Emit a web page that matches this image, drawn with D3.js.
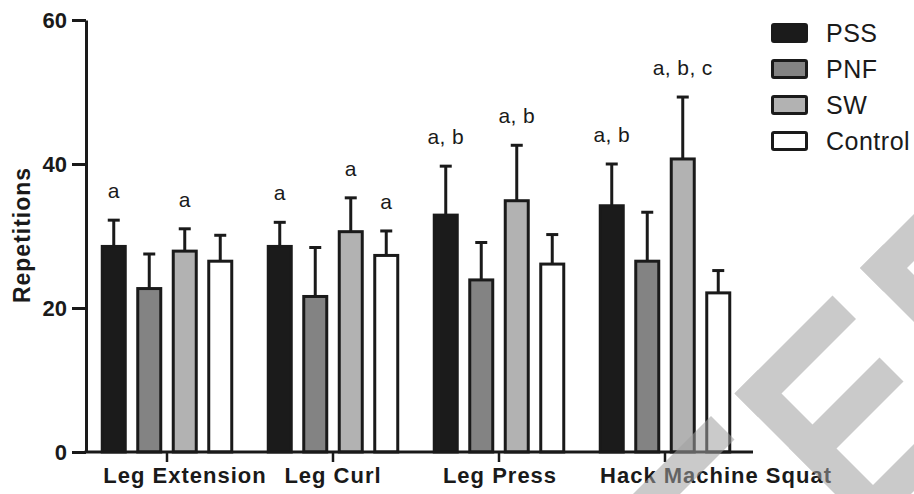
<!DOCTYPE html>
<html>
<head>
<meta charset="utf-8">
<script src="https://cdn.jsdelivr.net/npm/d3@7"></script>
<style>
  body { margin: 0; background: #fff; }
  svg { display: block; font-family: "Liberation Sans", Arial, sans-serif; }
</style>
</head>
<body>
<div id="chart"></div>
<script>
// values (mean and SD per group)
const categories = ["Leg Extension", "Leg Curl", "Leg Press", "Hack Machine Squat"];
const groups = ["PSS", "PNF", "SW", "Control"];

const pssMean = [28.55, 28.55, 32.9, 34.2];
const pssSd = [3.65, 3.35, 6.8, 5.8];
const pnfMean = [22.7, 21.6, 23.9, 26.5];
const pnfSd = [4.8, 6.8, 5.2, 6.8];
const swMean = [27.9, 30.6, 34.9, 40.7];
const swSd = [3.1, 4.7, 7.7, 8.6];
const controlMean = [26.5, 27.3, 26.1, 22.1];
const controlSd = [3.6, 3.4, 4.1, 3.1];

const pssMarks = ["a", "a", "a, b", "a, b"];
const pnfMarks = ["", "", "", ""];
const swMarks = ["a", "a", "a, b", "a, b, c"];
const controlMarks = ["", "a", "", ""];

const yTicks = [0, 20, 40, 60];

const colors = { PSS: "#1b1b1b", PNF: "#838383", SW: "#b2b2b2", Control: "#ffffff" };

const means = [pssMean, pnfMean, swMean, controlMean];
const sds = [pssSd, pnfSd, swSd, controlSd];
const marks = [pssMarks, pnfMarks, swMarks, controlMarks];

const rows = [];
categories.forEach((c, i) => {
    groups.forEach((g, j) => {
        rows.push({ cat: c, group: g, mean: means[j][i], sd: sds[j][i], mark: marks[j][i] });
    });
});

const width = 914, height = 494;
const axisLeft = 86, axisRight = 753;

const svg = d3.select("#chart").append("svg")
    .attr("width", width)
    .attr("height", height);

svg.append("rect").attr("width", width).attr("height", height).attr("fill", "#fff");

const y = d3.scaleLinear().domain([0, 60]).range([452, 20]);
const x0 = d3.scaleBand().domain(categories).range([84, 748]);
const x1 = d3.scaleBand().domain(groups).range([-71, 71]);
const barW = 23;

const bars = svg.append("g");

// error bars (drawn first so bar outline sits on top)
bars.selectAll("line.err")
    .data(rows)
    .enter()
    .append("line")
    .attr("class", "err")
    .attr("x1", d => x0(d.cat) + x0.bandwidth() / 2 + x1(d.group) + x1.bandwidth() / 2)
    .attr("x2", d => x0(d.cat) + x0.bandwidth() / 2 + x1(d.group) + x1.bandwidth() / 2)
    .attr("y1", d => y(d.mean))
    .attr("y2", d => y(d.mean + d.sd))
    .attr("stroke", "#1a1a1a")
    .attr("stroke-width", 3);

bars.selectAll("line.cap")
    .data(rows)
    .enter()
    .append("line")
    .attr("class", "cap")
    .attr("x1", d => x0(d.cat) + x0.bandwidth() / 2 + x1(d.group) + x1.bandwidth() / 2 - 6)
    .attr("x2", d => x0(d.cat) + x0.bandwidth() / 2 + x1(d.group) + x1.bandwidth() / 2 + 6)
    .attr("y1", d => y(d.mean + d.sd))
    .attr("y2", d => y(d.mean + d.sd))
    .attr("stroke", "#1a1a1a")
    .attr("stroke-width", 3);

bars.selectAll("rect")
    .data(rows)
    .enter()
    .append("rect")
    .attr("x", d => x0(d.cat) + x0.bandwidth() / 2 + x1(d.group) + x1.bandwidth() / 2 - barW / 2)
    .attr("y", d => y(d.mean))
    .attr("width", barW)
    .attr("height", d => y(0) - y(d.mean))
    .attr("fill", d => colors[d.group])
    .attr("stroke", "#1a1a1a")
    .attr("stroke-width", 3);

// significance letters
bars.selectAll("text.mark")
    .data(rows.filter(d => d.mark))
    .enter()
    .append("text")
    .attr("class", "mark")
    .attr("x", d => x0(d.cat) + x0.bandwidth() / 2 + x1(d.group) + x1.bandwidth() / 2)
    .attr("y", d => y(d.mean + d.sd) - 22)
    .attr("text-anchor", "middle")
    .style("font-size", "21px")
    .style("letter-spacing", "0.4px")
    .attr("fill", "#1a1a1a")
    .text(d => d.mark);

// y axis
const yAxis = svg.append("g")
    .attr("transform", "translate(" + axisLeft + ",0)")
    .call(d3.axisLeft(y).tickValues(yTicks).tickSizeInner(14).tickSizeOuter(0).tickPadding(5));
yAxis.select(".domain").attr("stroke", "#1a1a1a").attr("stroke-width", 3);
yAxis.selectAll(".tick line").attr("stroke", "#1a1a1a").attr("stroke-width", 3);
yAxis.selectAll(".tick text")
    .attr("fill", "#1a1a1a")
    .style("font-size", "22px")
    .style("font-weight", "bold")
    .style("font-family", "Liberation Sans, Arial, sans-serif");

// x axis
const labelShift = { "Leg Extension": 18, "Leg Curl": 0, "Leg Press": 1, "Hack Machine Squat": 51 };
const xAxis = svg.append("g")
    .attr("transform", "translate(0," + y(0) + ")")
    .call(d3.axisBottom(x0).tickSizeInner(10).tickSizeOuter(0).tickPadding(10));
xAxis.select(".domain").remove();
xAxis.append("line")
    .attr("x1", axisLeft - 1.5)
    .attr("x2", axisRight)
    .attr("stroke", "#1a1a1a")
    .attr("stroke-width", 3);
xAxis.selectAll(".tick line").attr("stroke", "#1a1a1a").attr("stroke-width", 2.5);
xAxis.selectAll(".tick text")
    .attr("fill", "#1a1a1a")
    .attr("dx", d => labelShift[d])
    .attr("y", 31)
    .attr("dy", 0)
    .style("font-size", "22px")
    .style("font-weight", "bold")
    .style("letter-spacing", "1px")
    .style("font-family", "Liberation Sans, Arial, sans-serif");

svg.append("text")
    .attr("transform", "translate(30,235) rotate(-90)")
    .attr("text-anchor", "middle")
    .style("font-size", "23px")
    .style("font-weight", "bold")
    .style("letter-spacing", "1px")
    .attr("fill", "#1a1a1a")
    .text("Repetitions");

// legend
const legend = svg.append("g").attr("transform", "translate(772,33)");
const item = legend.selectAll("g")
    .data(groups)
    .enter()
    .append("g")
    .attr("transform", (d, i) => "translate(0," + i * 36 + ")");
item.append("rect")
    .attr("x", 0.5)
    .attr("y", -8.5)
    .attr("width", 34)
    .attr("height", 17)
    .attr("rx", 1.5)
    .attr("fill", d => colors[d])
    .attr("stroke", "#1a1a1a")
    .attr("stroke-width", 3);
item.append("text")
    .attr("x", 54)
    .attr("y", 9)
    .style("font-size", "25px")
    .style("letter-spacing", "0.5px")
    .attr("fill", "#1a1a1a")
    .text(d => d);

// grey diagonal watermark over the lower right corner
// pieces given as [u0,u1,v0,v1] with u = x - y, v = x + y
const wmPieces = [
    [100, 295, 1127, 1174],
    [341, 388, 1128, 1405], [341, 537, 1128, 1175], [341, 522, 1237, 1285], [341, 537, 1358, 1405],
    [592, 639, 1128, 1405], [592, 800, 1128, 1175], [592, 780, 1237, 1285], [592, 800, 1358, 1405]
];
const r2 = Math.SQRT2;
svg.append("g")
    .attr("transform", "rotate(45)")
    .attr("fill", "#a0a0a0")
    .attr("opacity", 0.55)
    .selectAll("rect")
    .data(wmPieces)
    .enter()
    .append("rect")
    .attr("x", d => d[2] / r2)
    .attr("y", d => -d[1] / r2)
    .attr("width", d => (d[3] - d[2]) / r2)
    .attr("height", d => (d[1] - d[0]) / r2);
</script>
</body>
</html>
